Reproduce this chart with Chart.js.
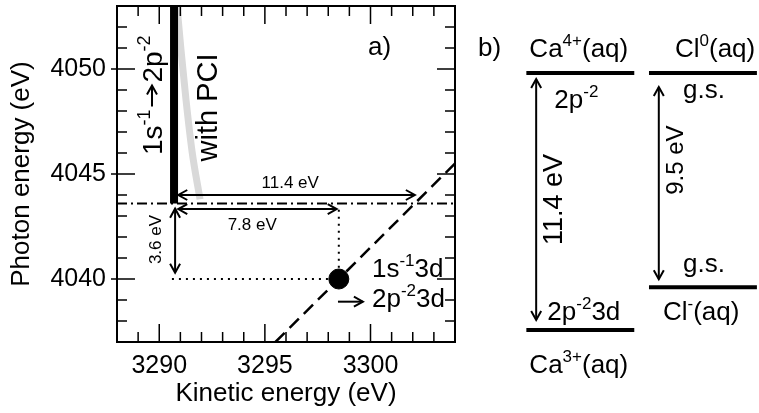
<!DOCTYPE html>
<html>
<head>
<meta charset="utf-8">
<script src="https://cdn.jsdelivr.net/npm/chart.js@4.4.0/dist/chart.umd.min.js"></script>
<style>
html, body { margin: 0; padding: 0; background: #fff; }
#wrap { position: relative; width: 759px; height: 413px; }
#chartA { position: absolute; left: 0; top: 0; }
#chartB { position: absolute; left: 470px; top: 0; }
</style>
</head>
<body>
<div id="wrap">
<canvas id="chartA" width="470" height="413"></canvas>
<canvas id="chartB" width="289" height="413"></canvas>
</div>
<script>
// panel a) values
var kineticRange = [3288, 3304];
var photonRange = [4037, 4053];
var xTicks = [3290, 3295, 3300];
var yTicks = [4040, 4045, 4050];
var bandX = [3290.7, 3290.7];
var bandY = [4043.6, 4053];
var pciX = [3290.84, 3291.03, 3291.27, 3291.55, 3291.93];
var pciY = [4053, 4050.9, 4048.5, 4046.1, 4043.8];
var thresholdX = [3288, 3304];
var thresholdY = [4043.6, 4043.6];
var diagX = [3295.5, 3304];
var diagY = [4037, 4045.5];
var dotX = [3298.5];
var dotY = [4040];
var gapsA = [11.4, 7.8, 3.6];

// panel b) values
var columns = ["Ca", "Cl"];
var levelColumn = [0, 0, 1, 1];
var levelEnergy = [11.4, 0, 11.4, 1.9];
var transitions = [11.4, 9.5];

var FONT = "'Liberation Sans', Arial, Helvetica, sans-serif";

function pts(xs, ys) {
  return xs.map(function (x, i) { return { x: x, y: ys[i] }; });
}

// text with superscripts: parts = [[text, isSup], ...]; a number part is a gap in px
function partWidth(ctx, p, size) {
  if (typeof p === "number") return p;
  ctx.font = (p[1] ? Math.round(size * 0.65) : size) + "px " + FONT;
  return ctx.measureText(p[0]).width;
}
function drawRich(ctx, parts, x, y, size, align) {
  var w = 0;
  parts.forEach(function (p) { w += partWidth(ctx, p, size); });
  var cx = x;
  if (align === "center") cx = x - w / 2;
  if (align === "right") cx = x - w;
  ctx.textAlign = "left";
  ctx.textBaseline = "alphabetic";
  ctx.fillStyle = "#000";
  parts.forEach(function (p) {
    var pw = partWidth(ctx, p, size);
    if (typeof p !== "number") {
      ctx.fillText(p[0], cx, p[1] ? y - size * 0.42 : y);
    }
    cx += pw;
  });
}
function drawRotated(ctx, parts, x, y, size, align) {
  ctx.save();
  ctx.translate(x, y);
  ctx.rotate(-Math.PI / 2);
  drawRich(ctx, parts, 0, 0, size, align);
  ctx.restore();
}
function head(ctx, x, y, ang) {
  var L = 9, W = 5;
  var c = Math.cos(ang), s = Math.sin(ang);
  ctx.beginPath();
  ctx.moveTo(x - L * c + W * s, y - L * s - W * c);
  ctx.lineTo(x, y);
  ctx.lineTo(x - L * c - W * s, y - L * s + W * c);
  ctx.stroke();
}
function arrow(ctx, x1, y1, x2, y2, both) {
  ctx.save();
  ctx.strokeStyle = "#000";
  ctx.lineWidth = 2;
  ctx.setLineDash([]);
  ctx.beginPath();
  ctx.moveTo(x1, y1);
  ctx.lineTo(x2, y2);
  ctx.stroke();
  var ang = Math.atan2(y2 - y1, x2 - x1);
  head(ctx, x2, y2, ang);
  if (both) head(ctx, x1, y1, ang + Math.PI);
  ctx.restore();
}

var panelA = {
  id: "panelA",
  afterDatasetsDraw: function (chart) {
    var ctx = chart.ctx, a = chart.chartArea;
    var xs = chart.scales.x, ys = chart.scales.y;
    var X = function (v) { return xs.getPixelForValue(v); };
    var Y = function (v) { return ys.getPixelForValue(v); };
    ctx.save();
    // frame and inward ticks
    ctx.strokeStyle = "#000";
    ctx.lineWidth = 2;
    ctx.strokeRect(a.left, a.top, a.right - a.left, a.bottom - a.top);
    ctx.lineWidth = 1.5;
    ctx.beginPath();
    for (var v = kineticRange[0]; v <= kineticRange[1]; v++) {
      var len = v % 5 === 0 ? 18 : 10;
      var px = X(v);
      ctx.moveTo(px, a.bottom); ctx.lineTo(px, a.bottom - len);
      ctx.moveTo(px, a.top); ctx.lineTo(px, a.top + len);
    }
    for (var w = photonRange[0]; w <= photonRange[1]; w++) {
      var ln = w % 5 === 0 ? 18 : 10;
      var py = Y(w);
      ctx.moveTo(a.left - (w % 5 === 0 ? 6 : 0), py); ctx.lineTo(a.left + ln, py);
      ctx.moveTo(a.right, py); ctx.lineTo(a.right - ln, py);
    }
    ctx.stroke();

    // energy gap arrows
    var x0 = bandX[0] + 0.2;
    arrow(ctx, X(x0), Y(4044.0), X(bandX[0] + gapsA[0]), Y(4044.0), true);
    arrow(ctx, X(x0), Y(4043.33), X(bandX[0] + gapsA[1] - 0.1), Y(4043.33), true);
    arrow(ctx, X(3290.75), Y(thresholdY[0] - 0.25), X(3290.75), Y(thresholdY[0] - gapsA[2] + 0.3), true);
    arrow(ctx, X(3298.46), Y(4038.92), X(3299.64), Y(4038.92), false);

    drawRich(ctx, [[gapsA[0].toFixed(1) + " eV", false]], X(3296.2), Y(4044.33), 17, "center");
    drawRich(ctx, [[gapsA[1].toFixed(1) + " eV", false]], X(3294.4), Y(4042.33), 17, "center");
    ctx.save();
    ctx.translate(X(3289.78) + 6, Y(4041.88));
    ctx.rotate(-Math.PI / 2);
    drawRich(ctx, [[gapsA[2].toFixed(1) + " eV", false]], 0, 0, 17, "center");
    ctx.restore();

    drawRich(ctx, [["a)", false]], X(3299.88), Y(4050.67), 26, "left");
    drawRich(ctx, [["1s", false], ["-1", true], ["3d", false]], X(3300.07), Y(4040.1), 26, "left");
    drawRich(ctx, [["2p", false], ["-2", true], ["3d", false]], X(3300.07), Y(4038.67), 26, "left");

    // rotated 1s-1 -> 2p-2 with a drawn arrow in the gap
    var rx = 162, ry = Y(4045.9);
    drawRotated(ctx, [["1s", false], ["-1", true], 27, ["2p", false], ["-2", true]], rx, ry, 28, "left");
    ctx.save();
    ctx.font = "28px " + FONT;
    var s1 = ctx.measureText("1s").width;
    ctx.font = "18px " + FONT;
    s1 += ctx.measureText("-1").width;
    ctx.restore();
    arrow(ctx, rx - 10, ry - s1 - 3, rx - 10, ry - s1 - 24, false);

    drawRotated(ctx, [["with PCI", false]], 217, Y(4045.6), 29, "left");
    ctx.restore();
  }
};

var chartA = new Chart(document.getElementById("chartA"), {
  type: "scatter",
  data: {
    datasets: [
      { data: pts(bandX, bandY), showLine: true, borderColor: "#000", borderWidth: 8, pointRadius: 0, borderCapStyle: "butt", order: 0 },
      { data: pts(pciX, pciY), showLine: true, borderColor: "#d9d9d9", borderWidth: 7, pointRadius: 0, cubicInterpolationMode: "monotone", order: 2 },
      { data: pts(thresholdX, thresholdY), showLine: true, borderColor: "#000", borderWidth: 2, borderDash: [10, 4, 2, 4], pointRadius: 0, order: 1 },
      { data: pts(diagX, diagY), showLine: true, borderColor: "#000", borderWidth: 2.5, borderDash: [13, 7], pointRadius: 0, order: 1 },
      { data: pts([dotX[0], dotX[0]], [4043.3, dotY[0]]), showLine: true, borderColor: "#000", borderWidth: 2, borderDash: [2, 5], pointRadius: 0, order: 1 },
      { data: pts([3290.6, dotX[0]], [dotY[0], dotY[0]]), showLine: true, borderColor: "#000", borderWidth: 2, borderDash: [2, 5], pointRadius: 0, order: 1 },
      { data: pts(dotX, dotY), pointRadius: 10, pointBackgroundColor: "#000", pointBorderColor: "#000", order: 0 }
    ]
  },
  options: {
    responsive: false,
    animation: false,
    devicePixelRatio: 1,
    layout: { autoPadding: false, padding: { top: 6, right: 15, left: 0, bottom: 0 } },
    plugins: { legend: { display: false }, tooltip: { enabled: false } },
    scales: {
      x: {
        type: "linear", min: kineticRange[0], max: kineticRange[1],
        grid: { display: false, drawTicks: false }, border: { display: false },
        ticks: {
          stepSize: 1, autoSkip: false, maxRotation: 0, padding: 9, color: "#000",
          font: { family: FONT, size: 25 },
          callback: function (v) { return xTicks.indexOf(v) >= 0 ? String(v) : ""; }
        },
        title: { display: true, text: "Kinetic energy (eV)", color: "#000", font: { family: FONT, size: 26 }, padding: { top: 0, bottom: 4 } },
        afterFit: function (s) { s.height = 71; s.paddingLeft = 0; s.paddingRight = 0; }
      },
      y: {
        type: "linear", min: photonRange[0], max: photonRange[1],
        grid: { display: false, drawTicks: false }, border: { display: false },
        ticks: {
          stepSize: 1, autoSkip: false, padding: 11, color: "#000",
          font: { family: FONT, size: 25 },
          callback: function (v) { return yTicks.indexOf(v) >= 0 ? String(v) : ""; }
        },
        title: { display: true, text: "Photon energy (eV)", color: "#000", font: { family: FONT, size: 26 }, padding: { top: 6, bottom: 0 } },
        afterFit: function (s) { s.width = 117; s.paddingTop = 0; s.paddingBottom = 0; }
      }
    }
  },
  plugins: [panelA]
});

var panelB = {
  id: "panelB",
  afterDatasetsDraw: function (chart) {
    var ctx = chart.ctx;
    var xs = chart.scales.x, ys = chart.scales.y;
    var X = function (v) { return xs.getPixelForValue(v); };
    var Y = function (v) { return ys.getPixelForValue(v); };
    ctx.save();
    // transition arrows, one per column
    columns.forEach(function (c, ci) {
      var e = levelEnergy.filter(function (_, i) { return levelColumn[i] === ci; });
      var top = Math.max.apply(null, e), bot = Math.min.apply(null, e);
      var ax = X(ci - 0.36);
      var inset = ci === 0 ? [6, 10] : [14, 8];
      arrow(ctx, ax, Y(top) + inset[0], ax, Y(bot) - inset[1], true);
      var mid = (Y(top) + Y(bot)) / 2 + (ci === 0 ? -2 : -20);
      ctx.save();
      ctx.translate(ax + (ci === 0 ? 26 : 24), mid);
      ctx.rotate(-Math.PI / 2);
      drawRich(ctx, [[transitions[ci].toFixed(1) + " eV", false]], 0, 0, ci === 0 ? 27 : 24, "center");
      ctx.restore();
    });

    var L = function (i) { return X(levelColumn[i] - 0.44); };
    drawRich(ctx, [["b)", false]], 8, 56, 26, "left");
    drawRich(ctx, [["Ca", false], ["4+", true], ["(aq)", false]], L(0) + 3, Y(levelEnergy[0]) - 16, 26, "left");
    drawRich(ctx, [["2p", false], ["-2", true]], L(0) + 28, Y(levelEnergy[0]) + 35, 26, "left");
    drawRich(ctx, [["2p", false], ["-2", true], ["3d", false]], L(1) + 21, Y(levelEnergy[1]) - 10, 26, "left");
    drawRich(ctx, [["Ca", false], ["3+", true], ["(aq)", false]], L(1) + 3, Y(levelEnergy[1]) + 43, 26, "left");
    drawRich(ctx, [["Cl", false], ["0", true], ["(aq)", false]], L(2) + 26, Y(levelEnergy[2]) - 16, 26, "left");
    drawRich(ctx, [["g.s.", false]], L(2) + 34, Y(levelEnergy[2]) + 25, 26, "left");
    drawRich(ctx, [["g.s.", false]], L(3) + 34, Y(levelEnergy[3]) - 15, 26, "left");
    drawRich(ctx, [["Cl", false], ["-", true], ["(aq)", false]], L(3) + 14, Y(levelEnergy[3]) + 33, 26, "left");
    ctx.restore();
  }
};

var chartB = new Chart(document.getElementById("chartB"), {
  type: "scatter",
  data: {
    datasets: levelEnergy.map(function (e, i) {
      var c = levelColumn[i];
      return {
        data: pts([c - 0.44, c + 0.44], [e, e]),
        showLine: true, borderColor: "#000", borderWidth: 4, pointRadius: 0, clip: false, borderCapStyle: "butt"
      };
    })
  },
  options: {
    responsive: false,
    animation: false,
    devicePixelRatio: 1,
    layout: { autoPadding: false, padding: { left: 49, right: 7, top: 73, bottom: 83 } },
    plugins: { legend: { display: false }, tooltip: { enabled: false } },
    scales: {
      x: { type: "linear", min: -0.5, max: 1.4, display: false },
      y: { type: "linear", min: 0, max: 11.4, display: false }
    }
  },
  plugins: [panelB]
});
</script>
</body>
</html>
